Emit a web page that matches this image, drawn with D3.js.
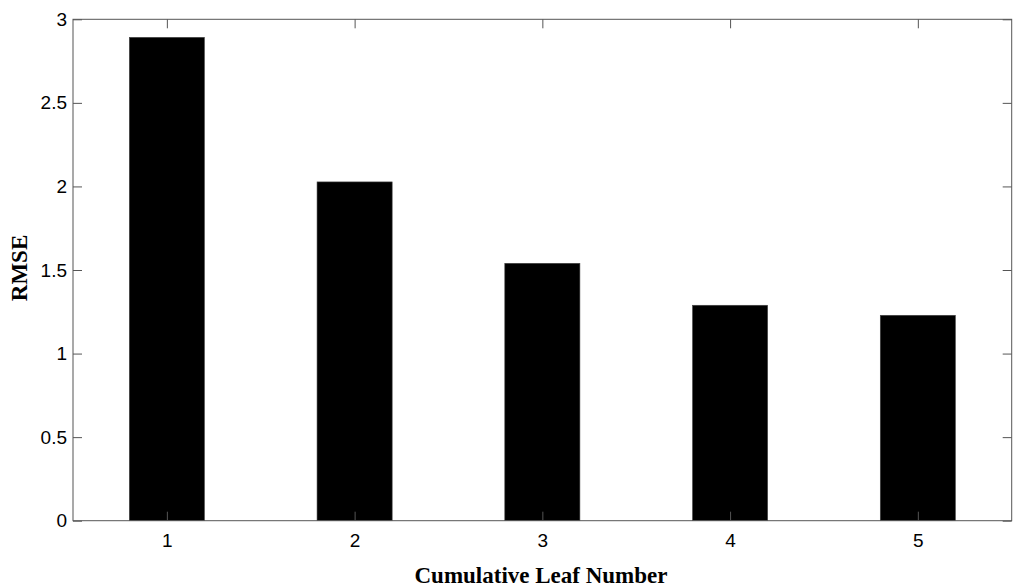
<!DOCTYPE html>
<html><head><meta charset="utf-8">
<script src="https://cdn.jsdelivr.net/npm/d3@7"></script>
<style>body{margin:0;background:#fff}svg{display:block}</style>
</head><body>
<svg id="chart" width="1024" height="588"></svg>
<script>
const categories = [1, 2, 3, 4, 5];
const rmseValues = [2.892, 2.027, 1.540, 1.289, 1.229];
const yTicks = [0, 0.5, 1, 1.5, 2, 2.5, 3];
const yTickLabels = ["0", "0.5", "1", "1.5", "2", "2.5", "3"];
const xLabel = "Cumulative Leaf Number";
const yLabel = "RMSE";

const svg = d3.select("#chart");
const L = 73, R = 1011.7, T = 19.3, B = 520.7;
const x = d3.scaleLinear().domain([0.5, 5.5]).range([L, R]);
const y = d3.scaleLinear().domain([0, 3]).range([B, T]);
const barW = x(0.4) - x(0);
const axisColor = "#555";

svg.append("g").selectAll("rect").data(categories).join("rect")
  .attr("x", (d) => x(d) - barW / 2)
  .attr("width", barW)
  .attr("y", (d, i) => y(rmseValues[i]))
  .attr("height", (d, i) => y(0) - y(rmseValues[i]))
  .attr("fill", "#000").attr("stroke", "#444").attr("stroke-width", 0.6);

const tickLen = 9;
const fmt = (d) => yTickLabels[yTicks.indexOf(d)];
function styleAxis(g) {
  g.select(".domain").remove();
  g.selectAll(".tick line").attr("stroke", axisColor);
  g.selectAll(".tick text").attr("fill", "#000")
    .style("font-family", "Liberation Sans, Arial, sans-serif").style("font-size", "19px");
}
svg.append("g").attr("transform", `translate(0,${B})`)
  .call(d3.axisBottom(x).tickValues(categories).tickFormat(d3.format("d")).tickSizeInner(-tickLen).tickSizeOuter(0).tickPadding(13))
  .call(styleAxis);
svg.append("g").attr("transform", `translate(0,${T})`)
  .call(d3.axisTop(x).tickValues(categories).tickFormat("").tickSizeInner(-tickLen).tickSizeOuter(0))
  .call(styleAxis);
svg.append("g").attr("transform", `translate(${L},0)`)
  .call(d3.axisLeft(y).tickValues(yTicks).tickFormat(fmt).tickSizeInner(-tickLen).tickSizeOuter(0).tickPadding(6))
  .call(styleAxis);
svg.append("g").attr("transform", `translate(${R},0)`)
  .call(d3.axisRight(y).tickValues(yTicks).tickFormat("").tickSizeInner(-tickLen).tickSizeOuter(0))
  .call(styleAxis);

svg.append("rect").attr("x", L).attr("y", T).attr("width", R - L).attr("height", B - T)
  .attr("fill", "none").attr("stroke", axisColor).attr("stroke-width", 1);

svg.append("text").attr("x", 541).attr("y", 583).attr("text-anchor", "middle")
  .style("font-family", "Liberation Serif, Times New Roman, serif").style("font-weight", "bold").style("font-size", "23px")
  .text(xLabel);
svg.append("text").attr("transform", `translate(27,${(T + B) / 2 - 2}) rotate(-90)`).attr("text-anchor", "middle")
  .style("font-family", "Liberation Serif, Times New Roman, serif").style("font-weight", "bold").style("font-size", "23px")
  .text(yLabel);
</script>
</body></html>
